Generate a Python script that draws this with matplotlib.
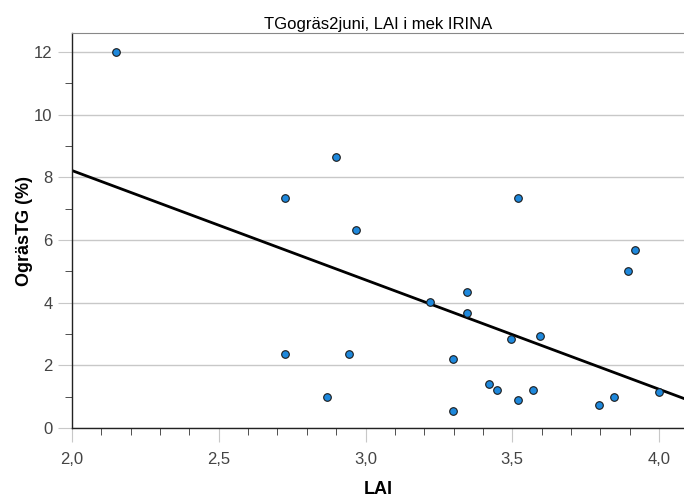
import matplotlib
matplotlib.use("Agg")
import matplotlib.pyplot as plt
import numpy as np
from matplotlib.ticker import MultipleLocator, FuncFormatter

plt.rcParams['font.family'] = ['Liberation Sans', 'DejaVu Sans']

# LAI vs weed share
lai = [2.15, 2.724, 2.898, 2.969, 2.724, 2.945, 2.87, 3.218, 3.345, 3.345,
       3.52, 3.297, 3.297, 3.42, 3.447, 3.495, 3.52, 3.57, 3.594, 3.795,
       3.846, 3.894, 3.918, 4.0]
ogras = [12.0, 7.34, 8.65, 6.32, 2.36, 2.36, 0.99, 4.02, 4.34, 3.67,
         7.34, 2.2, 0.54, 1.4, 1.21, 2.84, 0.89, 1.21, 2.94, 0.73,
         0.99, 5.01, 5.68, 1.15]

x = np.array(lai)
y = np.array(ogras)
# linear fit line
slope, icept = np.polyfit(x, y, 1)

fig = plt.figure(figsize=(6.84, 4.96), dpi=100)
ax = fig.add_axes([72 / 684, 68 / 496, 1 - 72 / 684, (428 - 33) / 496])

xmin, xmax = 2.0, 4.085
ax.set_xlim(xmin, xmax)
ax.set_ylim(0, 12.6)

ax.yaxis.grid(True, color='#c8c8c8', linewidth=1)
ax.set_axisbelow(True)

xx = np.array([xmin, xmax])
ax.plot(xx, icept + slope * xx, color='black', linewidth=2, zorder=2)
ax.scatter(x, y, s=30, color='#1e88dc', edgecolor='#1a1a1a', linewidth=0.8, zorder=3)

ax.xaxis.set_major_locator(MultipleLocator(0.5))
ax.xaxis.set_minor_locator(MultipleLocator(0.1))
ax.yaxis.set_major_locator(MultipleLocator(2))
ax.yaxis.set_minor_locator(MultipleLocator(1))
ax.xaxis.set_major_formatter(FuncFormatter(lambda v, p: f'{v:.1f}'.replace('.', ',')))
ax.yaxis.set_major_formatter(FuncFormatter(lambda v, p: f'{v:.0f}'))

ax.tick_params(which='major', length=10, color='#c8c8c8', labelsize=12, labelcolor='#444444')
ax.tick_params(which='minor', length=5, color='#333333')
ax.tick_params(axis='x', which='major', pad=7)
ax.tick_params(axis='y', which='major', pad=4)

for s in ['left', 'bottom']:
    ax.spines[s].set_color('#222222')
    ax.spines[s].set_linewidth(1)
ax.spines['top'].set_color('#888888')
ax.spines['right'].set_visible(False)

ax.set_xlabel('LAI', fontsize=13, fontweight='bold', labelpad=10)
ax.set_ylabel('OgräsTG (%)', fontsize=13, fontweight='bold', labelpad=1)
ax.set_title('TGogräs2juni, LAI i mek IRINA', fontsize=12, pad=3)

fig.savefig('out.png', dpi=100)
